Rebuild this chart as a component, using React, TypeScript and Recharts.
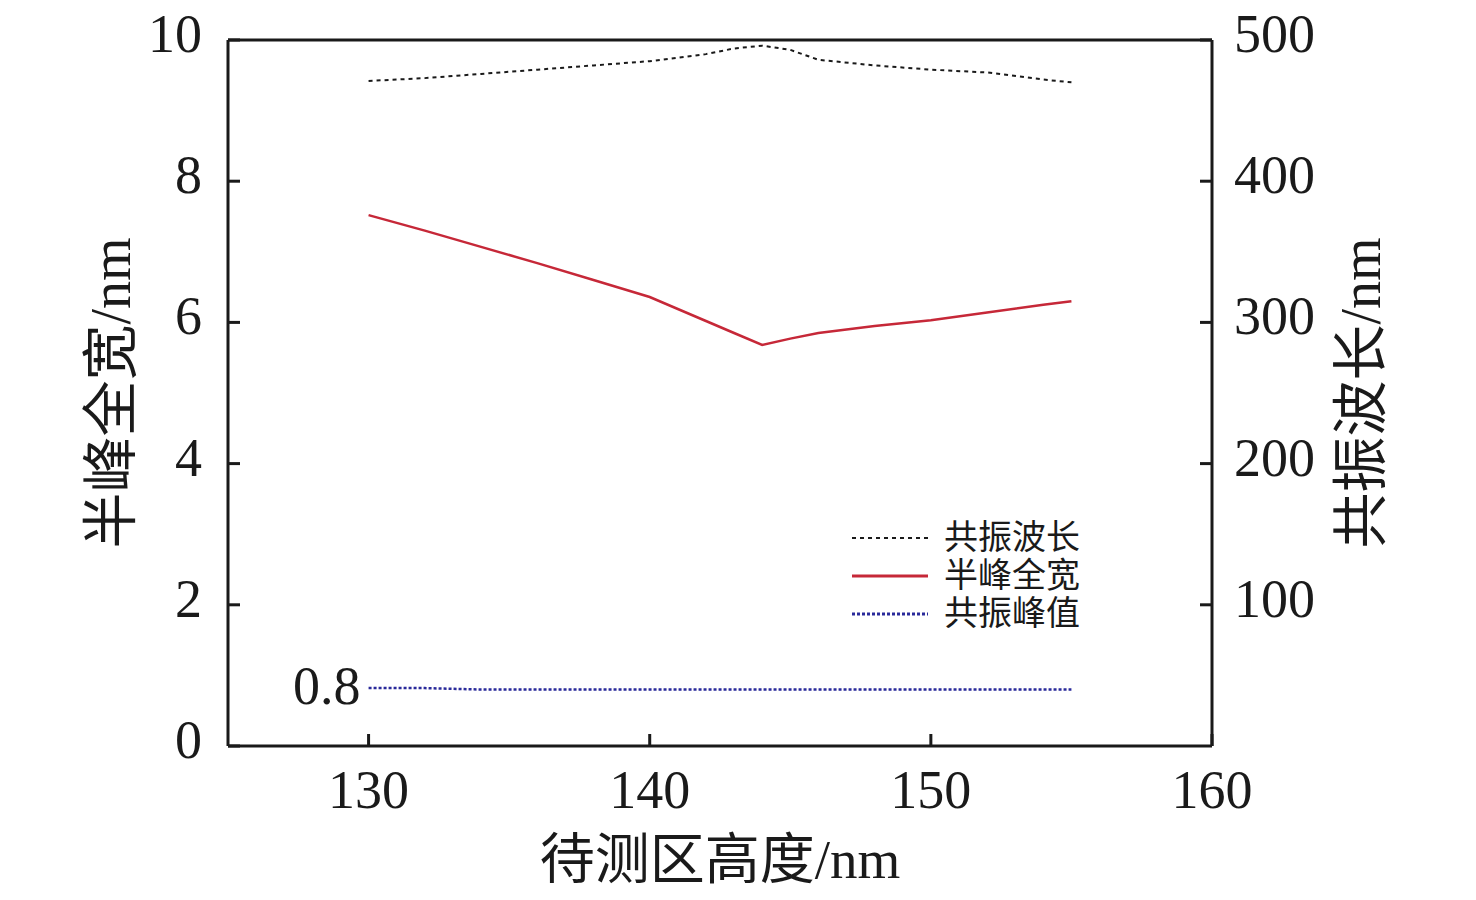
import { LineChart, Line, XAxis, YAxis, Label, LabelList, ReferenceLine } from 'recharts';

const heights = [130, 132, 134, 136, 138, 140, 142, 143, 144, 145, 146, 148, 150, 152, 154, 155];
// resonance wavelength, right axis
const wavelength = [471, 473, 476, 479, 482, 485, 490, 494, 496, 493, 486, 482, 479, 477, 472, 470];
// FWHM, left axis
const fwhm = [7.52, 7.3, 7.07, 6.84, 6.6, 6.36, 6.02, 5.85, 5.68, 5.77, 5.85, 5.95, 6.03, 6.14, 6.25, 6.3];
// resonance peak value, left axis
const peak = [0.82, 0.82, 0.8, 0.8, 0.8, 0.8, 0.8, 0.8, 0.8, 0.8, 0.8, 0.8, 0.8, 0.8, 0.8, 0.8];

const xTicks = [130, 140, 150, 160];
const leftTicks = [0, 2, 4, 6, 8, 10];
const rightTicks = [100, 200, 300, 400, 500];

const data = heights.map((h, i) => ({
  h,
  wavelength: wavelength[i],
  fwhm: fwhm[i],
  peak: peak[i],
}));

const FONT = '"Liberation Serif", "Noto Sans CJK SC", serif';
const INK = '#1a1a1a';
const TICK_FS = 54;
const TICK_LEN = 12;
const LM = 26; // left tick margin
const RM = 22; // right tick margin
const BM = 24; // bottom tick margin

const legendItems = [
  { name: '共振波长', color: INK, dash: '4 4', width: 2 },
  { name: '半峰全宽', color: '#c62838', dash: undefined, width: 3 },
  { name: '共振峰值', color: '#2a2a9a', dash: '3 2', width: 3 },
];

function LeftTick(props: any) {
  const { x, y, payload } = props;
  const ax = x + LM;
  return (
    <g>
      <line x1={ax} y1={y} x2={ax + TICK_LEN} y2={y} stroke={INK} strokeWidth={3} />
      <text x={x} y={y} dy={12} textAnchor="end" fontSize={TICK_FS} fontFamily={FONT} fill={INK}>
        {payload.value}
      </text>
    </g>
  );
}

function RightTick(props: any) {
  const { x, y, payload } = props;
  const ax = x - RM;
  return (
    <g>
      <line x1={ax} y1={y} x2={ax - TICK_LEN} y2={y} stroke={INK} strokeWidth={3} />
      <text x={x} y={y} dy={12} textAnchor="start" fontSize={TICK_FS} fontFamily={FONT} fill={INK}>
        {payload.value}
      </text>
    </g>
  );
}

function BottomTick(props: any) {
  const { x, y, payload } = props;
  const ay = y - BM;
  return (
    <g>
      <line x1={x} y1={ay} x2={x} y2={ay - TICK_LEN} stroke={INK} strokeWidth={3} />
      <text x={x} y={y} dy={38} textAnchor="middle" fontSize={TICK_FS} fontFamily={FONT} fill={INK}>
        {payload.value}
      </text>
    </g>
  );
}

function PeakLabel(props: any) {
  const { x, y, index } = props;
  if (index !== 0) return null;
  return (
    <text x={x - 8} y={y + 16} textAnchor="end" fontSize={TICK_FS} fontFamily={FONT} fill={INK}>
      0.8
    </text>
  );
}

export default function App() {
  return (
    <div style={{ position: 'absolute', left: 0, top: 0, width: 1476, height: 900, background: '#fff' }}>
      <LineChart
        width={1476}
        height={900}
        data={data}
        margin={{ top: 40, right: 164, bottom: 34, left: 128 }}
      >
        <XAxis
          dataKey="h"
          type="number"
          domain={[125, 160]}
          ticks={xTicks}
          height={120}
          stroke={INK}
          strokeWidth={3}
          tickSize={0}
          tickLine={false}
          tickMargin={BM}
          tick={<BottomTick />}
        >
          <Label value="待测区高度/nm" position="insideBottom" offset={-12} style={{ fontSize: 55, fill: INK, fontFamily: FONT }} />
        </XAxis>
        <YAxis
          yAxisId="left"
          domain={[0, 10]}
          ticks={leftTicks}
          width={100}
          stroke={INK}
          strokeWidth={3}
          tickSize={0}
          tickLine={false}
          tickMargin={LM}
          tick={<LeftTick />}
        >
          <Label value="半峰全宽/nm" angle={-90} position="insideLeft" offset={-18} style={{ fontSize: 56, fill: INK, fontFamily: FONT, textAnchor: 'middle' }} />
        </YAxis>
        <YAxis
          yAxisId="right"
          orientation="right"
          domain={[0, 500]}
          ticks={rightTicks}
          width={100}
          stroke={INK}
          strokeWidth={3}
          tickSize={0}
          tickLine={false}
          tickMargin={RM}
          tick={<RightTick />}
        >
          <Label value="共振波长/nm" angle={-90} position="insideRight" offset={-48} style={{ fontSize: 56, fill: INK, fontFamily: FONT, textAnchor: 'middle' }} />
        </YAxis>
        <ReferenceLine yAxisId="left" y={10} stroke={INK} strokeWidth={3} />
        <Line
          yAxisId="right"
          dataKey="wavelength"
          name="共振波长"
          stroke={INK}
          strokeWidth={2}
          strokeDasharray="4 4"
          dot={false}
          type="linear"
          isAnimationActive={false}
        />
        <Line
          yAxisId="left"
          dataKey="fwhm"
          name="半峰全宽"
          stroke="#c62838"
          strokeWidth={2.5}
          dot={false}
          type="linear"
          isAnimationActive={false}
        />
        <Line
          yAxisId="left"
          dataKey="peak"
          name="共振峰值"
          stroke="#2a2a9a"
          strokeWidth={2.5}
          strokeDasharray="3 2"
          dot={false}
          type="linear"
          isAnimationActive={false}
        >
          <LabelList dataKey="peak" content={<PeakLabel />} />
        </Line>
      </LineChart>
      <div
        style={{
          position: 'absolute',
          left: 850,
          top: 519,
          fontFamily: FONT,
          fontSize: 34,
          color: INK,
          lineHeight: '38px',
        }}
      >
        {legendItems.map((it) => (
          <div key={it.name} style={{ display: 'flex', alignItems: 'center' }}>
            <svg width={90} height={20}>
              <line x1={2} y1={10} x2={78} y2={10} stroke={it.color} strokeWidth={it.width} strokeDasharray={it.dash} />
            </svg>
            <span style={{ marginLeft: 4 }}>{it.name}</span>
          </div>
        ))}
      </div>
    </div>
  );
}
